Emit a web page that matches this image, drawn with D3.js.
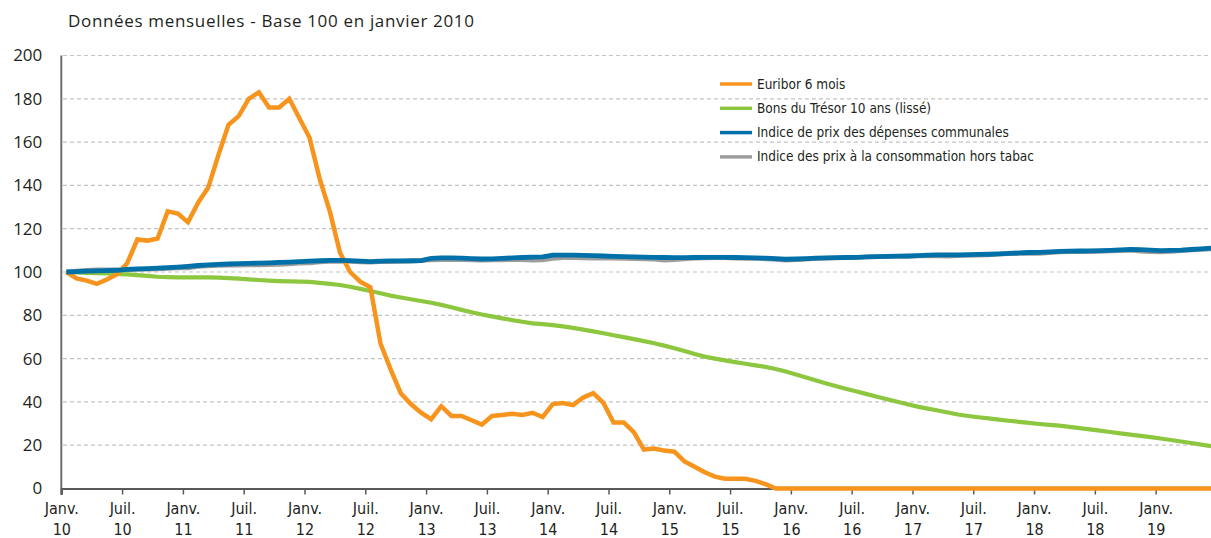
<!DOCTYPE html>
<html>
<head>
<meta charset="utf-8">
<script src="https://cdn.jsdelivr.net/npm/d3@7"></script>
<style>
  body { margin: 0; background: #fff; }
  svg { display: block; }
  .tick-lbl { font-family: "Liberation Sans Narrow", "DejaVu Sans Condensed", "Arial Narrow", sans-serif; fill: #231f20; }
</style>
</head>
<body>
<div id="chart"></div>
<script>
// monthly values, Jan 2010 -> Jun 2019, base 100 = Jan 2010
var euribor = [100, 97, 96, 94.5, 96.5, 99, 104, 115, 114.5, 115.5, 128, 127, 123, 132, 139, 154, 168, 172, 180, 183,
	176, 176, 180, 171, 162, 143, 128, 109, 100, 95.5, 93, 67, 55, 44, 39, 35, 32, 38, 33.5, 33.5,
	31.5, 29.5, 33.5, 34, 34.5, 34, 35, 33, 39, 39.5, 38.5, 42, 44, 39.5, 30.5, 30.5, 26, 18, 18.5, 17.5,
	17, 12.5, 10, 7.5, 5.5, 4.5, 4.5, 4.5, 3.5, 2, 0, 0, 0, 0, 0, 0, 0, 0, 0, 0,
	0, 0, 0, 0, 0, 0, 0, 0, 0, 0, 0, 0, 0, 0, 0, 0, 0, 0, 0, 0,
	0, 0, 0, 0, 0, 0, 0, 0, 0, 0, 0, 0, 0, 0];

var bonsTresor = [100, 99.8, 99.6, 99.5, 99.3, 99.1, 98.9, 98.6, 98.2, 97.8, 97.6, 97.5, 97.5, 97.5, 97.5, 97.4, 97.2, 96.9, 96.6, 96.3,
	96, 95.8, 95.7, 95.6, 95.4, 95, 94.5, 94, 93.2, 92.2, 91.2, 90.2, 89.1, 88.2, 87.4, 86.6, 85.8, 84.8, 83.7, 82.5,
	81.4, 80.4, 79.5, 78.6, 77.8, 77, 76.3, 75.9, 75.5, 74.9, 74.2, 73.4, 72.6, 71.7, 70.8, 69.9, 69, 68.1, 67.1, 66,
	64.8, 63.5, 62.1, 60.9, 60, 59.2, 58.4, 57.6, 56.9, 56.2, 55.2, 54, 52.7, 51.3, 49.9, 48.5, 47.2, 46, 44.8, 43.6,
	42.4, 41.2, 40.1, 38.9, 37.8, 36.9, 36, 35.1, 34.2, 33.5, 32.9, 32.4, 31.8, 31.3, 30.8, 30.3, 29.8, 29.4, 29, 28.5,
	27.9, 27.3, 26.7, 26.1, 25.5, 24.9, 24.3, 23.7, 23.1, 22.4, 21.7, 21, 20.3, 19.6];

var depCommunales = [100, 100.2, 100.4, 100.5, 100.6, 100.8, 101.2, 101.4, 101.6, 101.8, 102, 102.3, 102.6, 103, 103.3, 103.5, 103.7, 103.9, 104, 104.1,
	104.2, 104.4, 104.6, 104.8, 105, 105.2, 105.4, 105.4, 105.3, 105, 104.8, 105, 105.1, 105.1, 105.2, 105.3, 106.3, 106.5, 106.5, 106.4,
	106.2, 106, 106.1, 106.3, 106.5, 106.7, 106.9, 107, 107.8, 107.8, 107.8, 107.7, 107.6, 107.4, 107.2, 107.1, 107, 106.9, 106.8, 106.7,
	106.6, 106.6, 106.7, 106.8, 106.8, 106.8, 106.7, 106.6, 106.5, 106.4, 106.2, 105.9, 106, 106.2, 106.4, 106.5, 106.6, 106.7, 106.8, 107,
	107.1, 107.2, 107.3, 107.4, 107.6, 107.8, 107.9, 107.9, 107.9, 108, 108.1, 108.2, 108.4, 108.6, 108.8, 109, 109.1, 109.3, 109.5, 109.6,
	109.7, 109.8, 109.9, 110, 110.2, 110.4, 110.3, 110.1, 109.9, 110, 110.1, 110.4, 110.7, 111];

var ipcHorsTabac = [100, 100.5, 100.8, 101, 101, 101, 100.9, 101.2, 101.3, 101.4, 101.6, 101.8, 101.8, 102.5, 102.8, 103, 103.1, 103.1, 103.2, 103.2,
	103.3, 103.5, 103.7, 104, 104.1, 104.6, 104.9, 105, 104.9, 104.6, 104.5, 104.7, 104.7, 104.9, 105, 105.2, 105.6, 105.7, 105.7, 105.7,
	105.6, 105.4, 105.5, 105.6, 105.8, 105.7, 105.4, 105.5, 106.2, 106.6, 106.6, 106.5, 106.4, 106.5, 106.3, 106.2, 106.1, 106, 105.9, 105.4,
	105.6, 106, 106.3, 106.5, 106.6, 106.6, 106.4, 106.2, 106.3, 106, 105.8, 105.4, 105.6, 105.9, 106.2, 106.3, 106.5, 106.6, 106.7, 106.9,
	107, 107.1, 107.2, 107.2, 107.4, 107.5, 107.4, 107.3, 107.5, 107.6, 107.7, 107.8, 108.2, 108.4, 108.5, 108.5, 108.5, 108.9, 109.2, 109.3,
	109.3, 109.4, 109.5, 109.7, 109.8, 110, 109.6, 109.4, 109.2, 109.5, 109.8, 110.2, 110.4, 110.6];

var monthLabels = ["Janv.", "Juil."];
var yearLabels  = ["10", "11", "12", "13", "14", "15", "16", "17", "18", "19"];
var yTicks      = [0, 20, 40, 60, 80, 100, 120, 140, 160, 180, 200];

var seriesNames  = ["Euribor 6 mois", "Bons du Trésor 10 ans (lissé)", "Indice de prix des dépenses communales", "Indice des prix à la consommation hors tabac"];
var seriesColors = ["#f7941d", "#8dc63f", "#0070a8", "#9d9d9d"];

var width  = 1211,
	height = 538;

var svg = d3.select("#chart").append("svg")
	.attr("width", width)
	.attr("height", height);

// 114 monthly categories, points centred in each category
var nMonths = euribor.length;
var x = d3.scaleLinear().domain([0, nMonths]).range([61.3, 61.3 + nMonths * 10.133]);
var y = d3.scaleLinear().domain([0, 200]).range([488.5, 55.5]);

svg.append("text")
	.attr("x", 68).attr("y", 27)
	.attr("font-family", "'Open Sans', sans-serif")
	.attr("font-size", 17)
	.attr("textLength", 406)
	.attr("fill", "#231f20")
	.text("Données mensuelles - Base 100 en janvier 2010");

// grid
svg.append("g").selectAll("line")
	.data(yTicks.filter(function(d) { return d > 0; }))
	.enter().append("line")
	.attr("x1", 63).attr("x2", width)
	.attr("y1", function(d) { return y(d); })
	.attr("y2", function(d) { return y(d); })
	.attr("stroke", "#c3c3c3")
	.attr("stroke-width", 1.2)
	.attr("stroke-dasharray", "4,3");

// y axis
var yAxis = svg.append("g")
	.attr("transform", "translate(61.3,0)")
	.call(d3.axisLeft(y).tickValues(yTicks).tickSize(0).tickPadding(19));
yAxis.select(".domain").remove();
yAxis.selectAll("text")
	.attr("font-family", "'Open Sans', sans-serif")
	.attr("font-size", 17)
	.attr("fill", "#231f20");

svg.append("line")
	.attr("x1", 61.3).attr("x2", 61.3)
	.attr("y1", y(200)).attr("y2", 495)
	.attr("stroke", "#6d6e71").attr("stroke-width", 2);

// x axis
var xTickVals = d3.range(0, nMonths + 1, 6);
var xAxis = svg.append("g")
	.attr("transform", "translate(0," + y(0) + ")")
	.call(d3.axisBottom(x).tickValues(xTickVals).tickSize(6).tickFormat(""));
xAxis.select(".domain").attr("stroke", "#58595b").attr("stroke-width", 2);
xAxis.selectAll(".tick line").attr("stroke", "#58595b").attr("stroke-width", 1.5);

var lbl = xAxis.selectAll(".tick")
	.filter(function(d) { return d < 114; })
	.append("text")
	.attr("class", "tick-lbl")
	.attr("text-anchor", "middle")
	.attr("font-size", 16);
lbl.append("tspan")
	.attr("x", 0).attr("y", 25)
	.text(function(d) { return monthLabels[(d / 6) % 2]; });
lbl.append("tspan")
	.attr("x", 0).attr("y", 46)
	.text(function(d) { return yearLabels[Math.floor(d / 12)]; });

// lines
var line = d3.line()
	.x(function(d, i) { return x(i + 0.5); })
	.y(function(d) { return y(d); });

var drawOrder = [
	{data: ipcHorsTabac, color: seriesColors[3], w: 4.5},
	{data: bonsTresor, color: seriesColors[1], w: 4.2},
	{data: euribor, color: seriesColors[0], w: 4.5},
	{data: depCommunales, color: seriesColors[2], w: 4.8}
];

svg.append("g").selectAll("path")
	.data(drawOrder)
	.enter().append("path")
	.attr("d", function(d) { return line(d.data); })
	.attr("fill", "none")
	.attr("stroke", function(d) { return d.color; })
	.attr("stroke-width", function(d) { return d.w; })
	.attr("stroke-linejoin", "miter");

// legend
var legend = svg.append("g").attr("transform", "translate(720,84)");
var item = legend.selectAll("g")
	.data(seriesNames)
	.enter().append("g")
	.attr("transform", function(d, i) { return "translate(0," + i * 24.3 + ")"; });
item.append("line")
	.attr("x1", 0).attr("x2", 32)
	.attr("stroke", function(d, i) { return seriesColors[i]; })
	.attr("stroke-width", 3.5);
item.append("text")
	.attr("class", "tick-lbl")
	.attr("x", 37).attr("y", 4.5)
	.attr("font-size", 13.5)
	.text(function(d) { return d; });
</script>
</body>
</html>
